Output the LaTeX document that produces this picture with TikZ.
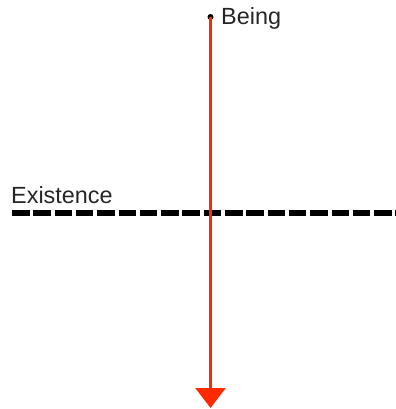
\documentclass[tikz,border=0pt]{standalone}
\usepackage{fontspec}
\setmainfont{Liberation Sans}
\usetikzlibrary{positioning, arrows.meta}
\definecolor{flowred}{RGB}{255,42,0}

\begin{document}
\begin{tikzpicture}[x=1bp, y=-1bp,
      lbl/.style={font=\fontsize{23.5}{28}\selectfont, text=black!85, inner sep=0pt},
      flow/.style={-{Triangle[width=30bp, length=20bp]}, line width=2.6bp, flowred},
      level/.style={line width=6bp, dash pattern=on 17.5bp off 3.8bp}]
    \useasboundingbox (0,0) rectangle (396,409);
    \fill (210.5,17) circle (3bp);
    \coordinate (src) at (210.5,17);
    \coordinate (tip) at (210.5,408);
    \node[lbl, anchor=west] (being) at (221,18) {Being};
    \coordinate (lvl-l) at (12,213);
    \coordinate (lvl-r) at (396,213);
    \node[lbl, anchor=base west] (exist) at (11,203) {Existence};
    \draw[level] (lvl-l) -- (lvl-r);
    \draw[flow] (src) -- (tip);
  \end{tikzpicture}
\end{document}
